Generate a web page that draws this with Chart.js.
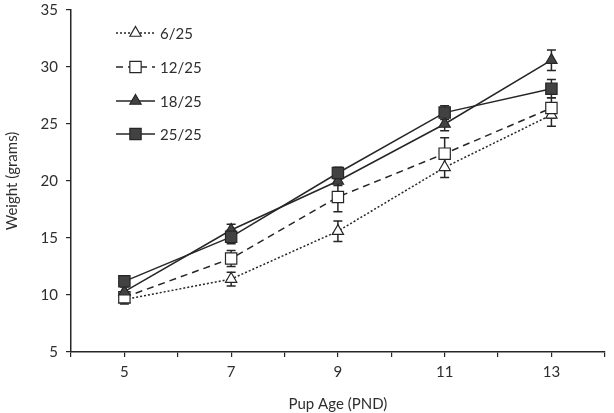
<!DOCTYPE html>
<html>
<head>
<meta charset="utf-8">
<script src="https://cdn.jsdelivr.net/npm/chart.js@4.4.1/dist/chart.umd.min.js"></script>
<style>
html,body{margin:0;padding:0;background:#fff;}
#wrap{width:614px;height:413px;position:relative;}
</style>
</head>
<body>
<div id="wrap"><canvas id="c" width="614" height="413"></canvas></div>
<script>
// ---- data ----
const categories = [5, 7, 9, 11, 13];           // pup age (PND)
const seriesLabels = ['6/25', '12/25', '18/25', '25/25'];
const weight6  = [9.6, 11.4, 15.6, 21.2, 25.8];
const weight12 = [9.8, 13.2, 18.6, 22.4, 26.4];
const weight18 = [10.3, 15.7, 20.0, 25.0, 30.6];
const weight25 = [11.2, 15.1, 20.7, 26.0, 28.1];
const err6  = [0.4, 0.6, 0.9, 0.9, 1.0];
const err12 = [0.4, 0.7, 1.3, 1.4, 0.9];
const err18 = [0.4, 0.5, 0.4, 0.6, 0.9];
const err25 = [0.3, 0.6, 0.5, 0.6, 0.8];
const yTicks = [5, 10, 15, 20, 25, 30, 35];

const INK = '#262626';
const FILL = '#424242';
const FONT = 'Lato, "Open Sans", sans-serif';

function pts(vals){ return categories.map((c,i)=>({x:c, y:vals[i]})); }

const styles = [
  {dash:[2,2], style:'triangle', fill:'#ffffff', radius:6.5, errs:err6,  vals:weight6,  order:3},
  {dash:[7,5], style:'rect',     fill:'#ffffff', radius:8,   errs:err12, vals:weight12, order:2},
  {dash:[],    style:'triangle', fill:FILL,      radius:6.5, errs:err18, vals:weight18, order:1},
  {dash:[],    style:'rect',     fill:FILL,      radius:8,   errs:err25, vals:weight25, order:0}
];

const datasets = styles.map((s,i)=>({
  label: seriesLabels[i],
  data: pts(s.vals),
  errors: s.errs,
  borderColor: INK,
  borderWidth: 1.5,
  borderDash: s.dash,
  pointStyle: s.style,
  pointRadius: s.radius,
  pointBackgroundColor: s.fill,
  pointBorderColor: INK,
  pointBorderWidth: 1.2,
  fill: false,
  tension: 0,
  order: s.order
}));

const errorBars = {
  id: 'errorBars',
  beforeDatasetsDraw(chart){
    const ctx = chart.ctx, xs = chart.scales.x, ys = chart.scales.y;
    ctx.save();
    ctx.strokeStyle = INK;
    ctx.lineWidth = 1.5;
    ctx.setLineDash([]);
    chart.data.datasets.forEach(ds=>{
      ds.data.forEach((p,i)=>{
        const e = ds.errors[i];
        const x = xs.getPixelForValue(p.x);
        const yt = ys.getPixelForValue(p.y + e);
        const yb = ys.getPixelForValue(p.y - e);
        ctx.beginPath();
        ctx.moveTo(x, yt); ctx.lineTo(x, yb);
        ctx.moveTo(x-4.5, yt); ctx.lineTo(x+4.5, yt);
        ctx.moveTo(x-4.5, yb); ctx.lineTo(x+4.5, yb);
        ctx.stroke();
      });
    });
    ctx.restore();
  }
};

function drawMarker(ctx, style, r, x, y, fill){
  ctx.beginPath();
  if (style === 'rect'){
    const s = Math.SQRT1_2 * r;
    ctx.rect(x - s, y - s, 2*s, 2*s);
  } else {
    ctx.moveTo(x, y - r);
    ctx.lineTo(x + r*Math.cos(Math.PI/6), y + r*0.5);
    ctx.lineTo(x - r*Math.cos(Math.PI/6), y + r*0.5);
    ctx.closePath();
  }
  ctx.fillStyle = fill;
  ctx.fill();
  ctx.stroke();
}

const legendPlugin = {
  id: 'insideLegend',
  afterDraw(chart){
    const ctx = chart.ctx;
    const rowsY = [33, 67, 101, 134];
    ctx.save();
    chart.data.datasets.forEach((ds,i)=>{
      const y = rowsY[i];
      ctx.strokeStyle = INK;
      ctx.lineWidth = 1.5;
      ctx.setLineDash(ds.borderDash);
      ctx.beginPath();
      ctx.moveTo(116, y); ctx.lineTo(155, y);
      ctx.stroke();
      ctx.setLineDash([]);
      ctx.lineWidth = 1.2;
      drawMarker(ctx, ds.pointStyle, ds.pointRadius, 135.5, y, ds.pointBackgroundColor);
      ctx.fillStyle = '#2e2e2e';
      ctx.font = '15px ' + FONT;
      ctx.textBaseline = 'middle';
      ctx.textAlign = 'left';
      ctx.fillText(ds.label, 160, y + 1);
    });
    ctx.restore();
  }
};

new Chart(document.getElementById('c'), {
  type: 'line',
  data: { datasets },
  options: {
    responsive: false,
    animation: false,
    events: [],
    layout: { padding: { top: 10, right: 1, left: 0, bottom: 0 } },
    plugins: { legend: { display: false }, tooltip: { enabled: false } },
    scales: {
      x: {
        type: 'linear',
        min: 4, max: 14,
        afterFit(s){ s.height = 61; s.paddingLeft = 0; s.paddingRight = 0; },
        ticks: {
          stepSize: 1,
          autoSkip: false,
          maxRotation: 0,
          padding: 6,
          color: '#2e2e2e',
          font: { family: FONT, size: 15 },
          callback: v => categories.includes(v) ? String(v) : ''
        },
        grid: { drawOnChartArea: false, drawTicks: true, tickLength: 5, color: INK, lineWidth: 1.2 },
        border: { color: INK, width: 1.5 },
        title: { display: true, text: 'Pup Age (PND)', color: '#2e2e2e', font: { family: FONT, size: 15 }, padding: { top: 6, bottom: 0 } }
      },
      y: {
        min: 5, max: 35,
        afterFit(s){ s.width = 71; s.paddingTop = 0; s.paddingBottom = 0; },
        afterBuildTicks(s){ s.ticks = yTicks.map(v=>({value:v})); },
        ticks: {
          padding: 8,
          color: '#2e2e2e',
          font: { family: FONT, size: 15 }
        },
        grid: { drawOnChartArea: false, drawTicks: true, tickLength: 5, color: INK, lineWidth: 1.2 },
        border: { color: INK, width: 1.5 },
        title: { display: true, text: 'Weight (grams)', color: '#2e2e2e', font: { family: FONT, size: 15 }, padding: { top: 3, bottom: 10 } }
      }
    }
  },
  plugins: [errorBars, legendPlugin]
});
</script>
</body>
</html>
